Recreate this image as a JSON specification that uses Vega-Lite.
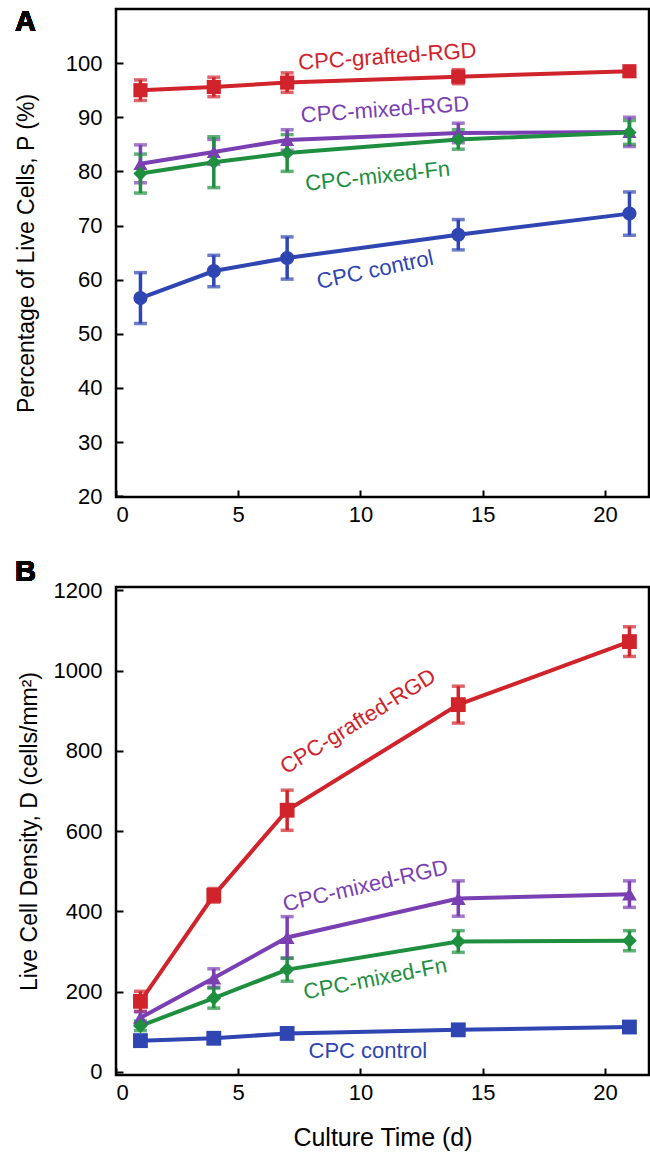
{
  "$schema": "https://vega.github.io/schema/vega-lite/v6.json",
  "padding": {"left": 13, "top": 6, "right": 2, "bottom": 2},
  "spacing": 29,
  "config": {
    "font": "Liberation Sans",
    "view": {"stroke": "black", "strokeWidth": 2.5},
    "axis": {"grid": false, "domain": false, "ticks": true, "tickColor": "black", "tickWidth": 2, "tickSize": -7, "labelColor": "black", "labelFontSize": 22, "titleFontSize": 23, "titleFontWeight": "normal", "titleColor": "black", "labelPadding": 14, "format": "d"},
    "axisY": {"labelPadding": 21}
  },
  "resolve": {"scale": {"shape": "independent"}},
  "datasets": {
    "pct": [
      {"day": 1, "group": "CPC-grafted-RGD", "value": 95.0, "err": 1.9},
      {"day": 4, "group": "CPC-grafted-RGD", "value": 95.6, "err": 1.8},
      {"day": 7, "group": "CPC-grafted-RGD", "value": 96.4, "err": 1.8},
      {"day": 14, "group": "CPC-grafted-RGD", "value": 97.5, "err": 1.3},
      {"day": 21, "group": "CPC-grafted-RGD", "value": 98.5, "err": 0.5},
      {"day": 1, "group": "CPC-mixed-RGD", "value": 81.4, "err": 3.5},
      {"day": 4, "group": "CPC-mixed-RGD", "value": 83.6, "err": 2.3},
      {"day": 7, "group": "CPC-mixed-RGD", "value": 85.8, "err": 1.9},
      {"day": 14, "group": "CPC-mixed-RGD", "value": 87.1, "err": 1.8},
      {"day": 21, "group": "CPC-mixed-RGD", "value": 87.3, "err": 2.7},
      {"day": 1, "group": "CPC-mixed-Fn", "value": 79.6, "err": 3.6},
      {"day": 4, "group": "CPC-mixed-Fn", "value": 81.7, "err": 4.7},
      {"day": 7, "group": "CPC-mixed-Fn", "value": 83.4, "err": 3.4},
      {"day": 14, "group": "CPC-mixed-Fn", "value": 85.9, "err": 1.8},
      {"day": 21, "group": "CPC-mixed-Fn", "value": 87.2, "err": 2.2},
      {"day": 1, "group": "CPC control", "value": 56.6, "err": 4.7},
      {"day": 4, "group": "CPC control", "value": 61.6, "err": 2.9},
      {"day": 7, "group": "CPC control", "value": 64.0, "err": 3.9},
      {"day": 14, "group": "CPC control", "value": 68.3, "err": 2.8},
      {"day": 21, "group": "CPC control", "value": 72.2, "err": 4.0}
    ],
    "dens": [
      {"day": 1, "group": "CPC-grafted-RGD", "value": 176, "err": 25},
      {"day": 4, "group": "CPC-grafted-RGD", "value": 440, "err": 17},
      {"day": 7, "group": "CPC-grafted-RGD", "value": 652, "err": 50},
      {"day": 14, "group": "CPC-grafted-RGD", "value": 915, "err": 46},
      {"day": 21, "group": "CPC-grafted-RGD", "value": 1072, "err": 37},
      {"day": 1, "group": "CPC-mixed-RGD", "value": 135, "err": 15},
      {"day": 4, "group": "CPC-mixed-RGD", "value": 234, "err": 23},
      {"day": 7, "group": "CPC-mixed-RGD", "value": 335, "err": 52},
      {"day": 14, "group": "CPC-mixed-RGD", "value": 432, "err": 44},
      {"day": 21, "group": "CPC-mixed-RGD", "value": 443, "err": 33},
      {"day": 1, "group": "CPC-mixed-Fn", "value": 115, "err": 12},
      {"day": 4, "group": "CPC-mixed-Fn", "value": 184, "err": 25},
      {"day": 7, "group": "CPC-mixed-Fn", "value": 255, "err": 29},
      {"day": 14, "group": "CPC-mixed-Fn", "value": 325, "err": 27},
      {"day": 21, "group": "CPC-mixed-Fn", "value": 327, "err": 25},
      {"day": 1, "group": "CPC control", "value": 78, "err": 13},
      {"day": 4, "group": "CPC control", "value": 84, "err": 12},
      {"day": 7, "group": "CPC control", "value": 96, "err": 10},
      {"day": 14, "group": "CPC control", "value": 105, "err": 10},
      {"day": 21, "group": "CPC control", "value": 112, "err": 10}
    ],
    "labelsA": [
      {"day": 11.1, "value": 101.2, "text": "CPC-grafted-RGD", "group": "CPC-grafted-RGD"},
      {"day": 11.0, "value": 91.4, "text": "CPC-mixed-RGD", "group": "CPC-mixed-RGD"},
      {"day": 10.7, "value": 79.1, "text": "CPC-mixed-Fn", "group": "CPC-mixed-Fn"},
      {"day": 10.6, "value": 61.8, "text": "CPC control", "group": "CPC control"}
    ],
    "labelsB": [
      {"day": 9.9, "value": 873, "text": "CPC-grafted-RGD", "group": "CPC-grafted-RGD"},
      {"day": 10.2, "value": 464, "text": "CPC-mixed-RGD", "group": "CPC-mixed-RGD"},
      {"day": 10.6, "value": 232, "text": "CPC-mixed-Fn", "group": "CPC-mixed-Fn"},
      {"day": 10.3, "value": 53, "text": "CPC control", "group": "CPC control"}
    ]
  },
  "vconcat": [
    {
      "width": 533,
      "height": 488,
      "data": {"name": "pct"},
      "encoding": {
        "x": {"field": "day", "type": "quantitative", "scale": {"domain": [0, 21.8], "nice": false}, "axis": {"title": null, "values": [0, 5, 10, 15, 20]}},
        "y": {"field": "value", "type": "quantitative", "scale": {"domain": [19.85, 110], "nice": false, "zero": false}, "axis": {"title": "Percentage of Live Cells, P (%)", "values": [20, 30, 40, 50, 60, 70, 80, 90, 100], "titlePadding": 27}},
        "color": {"field": "group", "type": "nominal", "legend": null, "scale": {"domain": ["CPC-grafted-RGD", "CPC-mixed-RGD", "CPC-mixed-Fn", "CPC control"], "range": ["#d0232b", "#7a3fb2", "#1e8f3e", "#2e45b2"]}}
      },
      "layer": [
        {"mark": {"type": "line", "strokeWidth": 4}},
        {"mark": {"type": "errorbar", "thickness": 3.5, "ticks": {"size": 13, "thickness": 3.5}}, "encoding": {"yError": {"field": "err"}}},
        {"mark": {"type": "point", "filled": true, "opacity": 1, "size": 200}, "encoding": {"shape": {"field": "group", "type": "nominal", "legend": null, "scale": {"domain": ["CPC-grafted-RGD", "CPC-mixed-RGD", "CPC-mixed-Fn", "CPC control"], "range": ["square", "triangle-up", "diamond", "circle"]}}}},
        {"data": {"name": "labelsA"}, "transform": [{"filter": "datum.group == 'CPC-grafted-RGD' || datum.group == 'CPC-mixed-RGD'"}], "mark": {"type": "text", "fontSize": 22, "angle": 356}, "encoding": {"text": {"field": "text"}}},
        {"data": {"name": "labelsA"}, "transform": [{"filter": "datum.group == 'CPC-mixed-Fn'"}], "mark": {"type": "text", "fontSize": 22, "angle": 354}, "encoding": {"text": {"field": "text"}}},
        {"data": {"name": "labelsA"}, "transform": [{"filter": "datum.group == 'CPC control'"}], "mark": {"type": "text", "fontSize": 22, "angle": 348}, "encoding": {"text": {"field": "text"}}},
        {"mark": {"type": "text", "text": "A", "fontSize": 29, "fontWeight": "bold"}, "encoding": {"x": {"datum": -3.7}, "y": {"datum": 107.6}, "color": {"value": "black"}}}
      ]
    },
    {
      "width": 533,
      "height": 488,
      "data": {"name": "dens"},
      "encoding": {
        "x": {"field": "day", "type": "quantitative", "scale": {"domain": [0, 21.8], "nice": false}, "axis": {"title": "Culture Time (d)", "values": [0, 5, 10, 15, 20], "titleFontSize": 25, "titlePadding": 22}},
        "y": {"field": "value", "type": "quantitative", "scale": {"domain": [-7.5, 1208], "nice": false, "zero": false}, "axis": {"title": "Live Cell Density, D (cells/mm²)", "values": [0, 200, 400, 600, 800, 1000, 1200], "titlePadding": 12}},
        "color": {"field": "group", "type": "nominal", "legend": null, "scale": {"domain": ["CPC-grafted-RGD", "CPC-mixed-RGD", "CPC-mixed-Fn", "CPC control"], "range": ["#d0232b", "#7a3fb2", "#1e8f3e", "#2e45b2"]}}
      },
      "layer": [
        {"mark": {"type": "line", "strokeWidth": 4}},
        {"mark": {"type": "errorbar", "thickness": 3.5, "ticks": {"size": 13, "thickness": 3.5}}, "encoding": {"yError": {"field": "err"}}},
        {"mark": {"type": "point", "filled": true, "opacity": 1, "size": 220}, "encoding": {"shape": {"field": "group", "type": "nominal", "legend": null, "scale": {"domain": ["CPC-grafted-RGD", "CPC-mixed-RGD", "CPC-mixed-Fn", "CPC control"], "range": ["square", "triangle-up", "diamond", "square"]}}}},
        {"data": {"name": "labelsB"}, "transform": [{"filter": "datum.group == 'CPC-grafted-RGD'"}], "mark": {"type": "text", "fontSize": 22, "angle": 328}, "encoding": {"text": {"field": "text"}}},
        {"data": {"name": "labelsB"}, "transform": [{"filter": "datum.group == 'CPC-mixed-RGD'"}], "mark": {"type": "text", "fontSize": 22, "angle": 347}, "encoding": {"text": {"field": "text"}}},
        {"data": {"name": "labelsB"}, "transform": [{"filter": "datum.group == 'CPC-mixed-Fn'"}], "mark": {"type": "text", "fontSize": 22, "angle": 349}, "encoding": {"text": {"field": "text"}}},
        {"data": {"name": "labelsB"}, "transform": [{"filter": "datum.group == 'CPC control'"}], "mark": {"type": "text", "fontSize": 22, "angle": 0}, "encoding": {"text": {"field": "text"}}},
        {"mark": {"type": "text", "text": "B", "fontSize": 29, "fontWeight": "bold"}, "encoding": {"x": {"datum": -3.7}, "y": {"datum": 1245}, "color": {"value": "black"}}}
      ]
    }
  ]
}
